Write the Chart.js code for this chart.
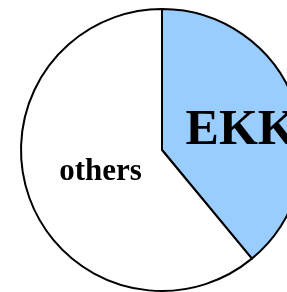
<!DOCTYPE html>
<html>
<head>
<meta charset="utf-8">
<script src="https://cdn.jsdelivr.net/npm/chart.js@4/dist/chart.umd.min.js"></script>
<style>
html,body{margin:0;padding:0;overflow:hidden;background:#fff;width:287px;height:292px;}
canvas{position:absolute;left:0;top:0;}
</style>
</head>
<body>
<canvas id="c" width="324" height="300"></canvas>
<script>
const categories = ["EKK", "others"];
const values = [39, 61];
const sliceColors = ["#99ccff", "#ffffff"];
const labelFonts = ["bold 50px 'Liberation Serif'", "bold 31px 'Liberation Serif'"];
const labelRadiusFraction = [0.577, 0.463];
const labelAngleFraction = [0.545, 0.5];

const labelPlugin = {
  id: 'sliceLabels',
  afterDatasetsDraw(chart) {
    const ctx = chart.ctx;
    const meta = chart.getDatasetMeta(0);
    meta.data.forEach((arc, i) => {
      const p = arc.getProps(['x','y','startAngle','endAngle','outerRadius'], true);
      const ang = p.startAngle + (p.endAngle - p.startAngle) * labelAngleFraction[i];
      const r = p.outerRadius * labelRadiusFraction[i];
      const x = p.x + Math.cos(ang) * r;
      const y = p.y + Math.sin(ang) * r;
      ctx.save();
      ctx.font = labelFonts[i];
      ctx.fillStyle = '#000';
      ctx.textAlign = 'center';
      ctx.textBaseline = 'middle';
      ctx.fillText(chart.data.labels[i], x, y);
      ctx.restore();
    });
  }
};

new Chart(document.getElementById('c'), {
  type: 'pie',
  data: {
    labels: categories,
    datasets: [{
      data: values,
      backgroundColor: sliceColors,
      borderColor: '#000',
      borderWidth: 2,
      borderAlign: 'center'
    }]
  },
  options: {
    responsive: false,
    animation: false,
    layout: { padding: 8 },
    plugins: { legend: { display: false }, tooltip: { enabled: false } }
  },
  plugins: [labelPlugin]
});
</script>
</body>
</html>
